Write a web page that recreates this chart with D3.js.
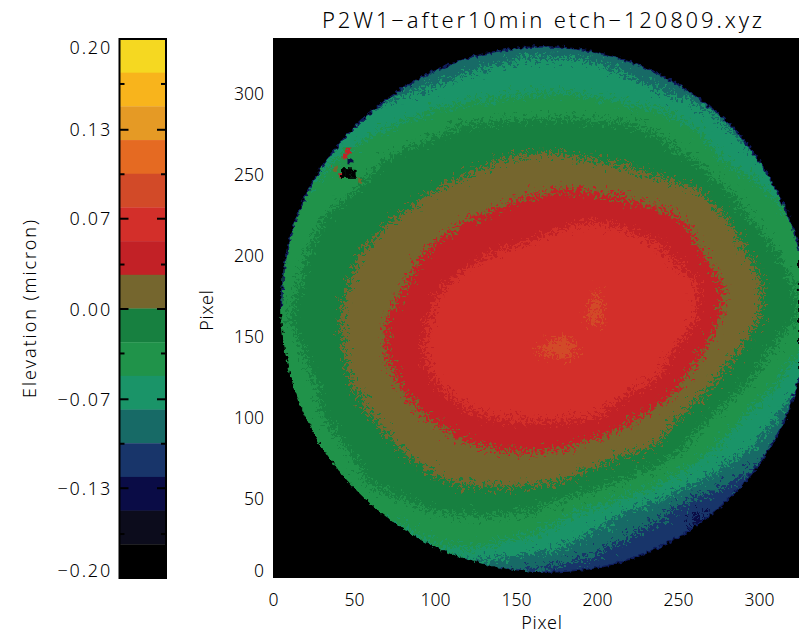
<!DOCTYPE html>
<html><head><meta charset="utf-8">
<style>
html,body{margin:0;padding:0;background:#fff;overflow:hidden}
svg{display:block}
text{font-family:"Noto Sans",sans-serif;font-weight:300;fill:#000}
</style>
<script src="https://cdn.jsdelivr.net/npm/d3@7"></script>
</head><body>
<svg id="c" width="799" height="633"></svg>
<script>
const titleText = "P2W1\u2212after10min etch\u2212120809.xyz";
const xLabel = "Pixel", yLabel = "Pixel", barLabel = "Elevation (micron)";
const pixelTicks = [0,50,100,150,200,250,300];
const barMajorTicks = [0.2,0.133,0.067,0,-0.067,-0.133,-0.2];
const barMinorTicks = [0.167,0.1,0.033,-0.033,-0.1,-0.167];
// top to bottom of the colour bar
const bandColors = ["#f5d821","#f8b41c","#e59a25","#e56a22","#d24a28","#d32f2a","#c22126","#75662e",
  "#178040","#20934a","#1a9468","#176a66","#18356a","#0a0c46","#0c0c1c","#000000"];
const bandEdges = [0.175,0.15,0.125,0.1,0.075,0.05,0.025,0,-0.025,-0.05,-0.075,-0.1,-0.125,-0.15,-0.175];
// surface elevation in nanometres, every 20 pixels
const gridX = [0,20,40,60,80,100,120,140,160,180,200,220,240,260,280,300,320,340];
const gridY = [340,320,300,280,260,240,220,200,180,160,140,120,100,80,60,40,20,0];
const elevationNm = [
 [-140,-140,-140,-135,-130,-125,-120,-115,-110,-110,-115,-120,-125,-130,-135,-140,-140,-140],
 [-140,-135,-130,-120,-110,-95,-85,-78,-74,-74,-77,-85,-95,-110,-120,-130,-135,-140],
 [-130,-120,-105,-90,-78,-70,-62,-56,-52,-51,-55,-65,-75,-85,-100,-115,-125,-130],
 [-120,-110,-80,-60,-48,-33,-24,-21,-19,-19,-21,-24,-32,-53,-75,-90,-105,-115],
 [-100,-75,-50,-31,-19,-12,-7,-2,2,2,-3,-7,-15,-28,-55,-75,-90,-105],
 [-70,-52,-32,-20,-10,0,6,13,21,25,22,15,8,1,-24,-45,-65,-85],
 [-55,-32,-18,-6,4,14,26,34,42,48,50,46,36,20,4,-30,-48,-70],
 [-60,-26,-9,4,17,30,45,52,56,60,63,60,54,30,12,-7,-36,-55],
 [-45,-20,-4,9,23,47,57,61,64,67,75,69,62,54,21,3,-23,-40],
 [-35,-15,-1,15,35,54,60,64,68,73,76,70,62,53,18,0,-21,-38],
 [-45,-23,-4,14,39,56,63,67,75,77,72,64,58,33,9,-15,-43,-65],
 [-60,-32,-7,10,27,50,57,60,64,68,60,56,46,13,-10,-33,-63,-90],
 [-65,-38,-13,0,15,30,48,52,54,53,50,31,12,-10,-36,-62,-87,-110],
 [-70,-55,-30,-12,1,10,20,26,28,25,14,6,-5,-35,-58,-80,-105,-120],
 [-90,-70,-45,-22,-10,-2,3,5,4,0,-12,-29,-46,-70,-95,-116,-122,-124],
 [-110,-95,-70,-50,-36,-26,-23,-23,-26,-45,-60,-78,-96,-127,-122,-122,-124,-126],
 [-130,-120,-105,-90,-70,-50,-45,-53,-62,-73,-92,-108,-116,-124,-124,-126,-128,-130],
 [-150,-145,-140,-130,-120,-110,-105,-110,-115,-120,-122,-124,-124,-124,-126,-128,-130,-130]
];
// wafer outline: radius in pixels every 15 degrees, clockwise from the top
const discCenter = [168,166];
const discRadii = [162,161.5,161,161,160.5,161,162,162.5,163,163,163,163,162.5,162,161.5,161.5,162,162.5,163,163.5,163.5,162.5,162,162];
const outlineOrder = [18,19,20,21,22,23,0,1,2,3,4,5,6,7,8,9,10,11,12];
// small defect near the upper-left edge: x, y, elevation (nm)
const defectX = [43,45,41,37,52,42,45,48,42,45,48,46];
const defectY = [262,265,250,254,247,253,253,252,250,250,250,259];
const defectNm = [40,35,40,10,10,-190,-190,-190,-190,-190,-190,-130];

const W=799,H=633;
const plot={l:273,r:799,t:38,b:578};
const x=d3.scaleLinear().domain([0,(plot.r-plot.l)/1.62]).range([plot.l,plot.r]);
const y=d3.scaleLinear().domain([0,(plot.b-plot.t)/1.62]).range([plot.b,plot.t]);
const color=d3.scaleThreshold().domain(bandEdges.slice().reverse()).range(bandColors.slice().reverse());
const svg=d3.select("#c");

const defs=svg.append("defs");
function speckle(id,freq,scale,seed){
  const f=defs.append("filter").attr("id",id).attr("filterUnits","userSpaceOnUse")
    .attr("x",plot.l).attr("y",plot.t).attr("width",plot.r-plot.l).attr("height",plot.b-plot.t)
    .attr("color-interpolation-filters","sRGB");
  f.append("feTurbulence").attr("type","fractalNoise").attr("baseFrequency",freq).attr("numOctaves",1).attr("seed",seed).attr("result","n");
  f.append("feDisplacementMap").attr("in","SourceGraphic").attr("in2","n").attr("scale",scale).attr("xChannelSelector","R").attr("yChannelSelector","G");
}
speckle("speckle",0.42,38,4);
speckle("rough",0.3,7,9);

const discLine=d3.lineRadial().curve(d3.curveCatmullRomClosed)
  .angle((d,i)=>i*Math.PI/12).radius(d=>d*1.62);
const discPath=discLine(discRadii);
const discT=`translate(${x(discCenter[0])},${y(discCenter[1])})`;
defs.append("clipPath").attr("id","disc").append("path").attr("d",discPath).attr("transform",discT);

svg.append("rect").attr("x",plot.l).attr("y",plot.t).attr("width",plot.r-plot.l).attr("height",plot.b-plot.t).attr("fill","#000");

const plotG=svg.append("g").attr("filter","url(#rough)");
const clipped=plotG.append("g").attr("clip-path","url(#disc)");
const bands=clipped.append("g").attr("filter","url(#speckle)");

const nx=gridX.length, ny=gridY.length;
const flat=elevationNm.flat().map(v=>v/1000);
const gx=d3.scaleLinear().domain([0,nx-1]).range([gridX[0],gridX[nx-1]]);
const gy=d3.scaleLinear().domain([0,ny-1]).range([gridY[0],gridY[ny-1]]);
const proj=d3.geoTransform({point(a,b){this.stream.point(x(gx(a-0.5)),y(gy(b-0.5)));}});
const path=d3.geoPath(proj);
const thresholds=bandEdges.slice().reverse();
const cs=d3.contours().size([nx,ny]).thresholds(thresholds).smooth(true)(flat);
bands.append("rect").attr("x",plot.l).attr("y",plot.t).attr("width",plot.r-plot.l).attr("height",plot.b-plot.t).attr("fill",color(-0.13));
bands.selectAll("path.b").data(cs).join("path").attr("class","b")
  .attr("d",path).attr("fill",d=>color(d.value+1e-6));

clipped.selectAll("rect.d").data(defectX).join("rect").attr("class","d")
  .attr("x",d=>x(d)).attr("y",(d,i)=>y(defectY[i]))
  .attr("width",x(3)-x(0)).attr("height",y(0)-y(3))
  .attr("fill",(d,i)=>color(defectNm[i]/1000));

const edgeLine=d3.lineRadial().curve(d3.curveCatmullRom)
  .angle(i=>(i>=18?i-24:i)*Math.PI/12).radius(i=>discRadii[i]*1.62);
plotG.append("path").attr("d",edgeLine(outlineOrder)).attr("transform",discT).attr("fill","none")
  .attr("stroke","#0f1c5c").attr("stroke-width",1.5);

// pixel axes
const fs=17.5;
const xA=svg.append("g").attr("transform",`translate(0,${plot.b})`)
  .call(d3.axisBottom(x).tickValues(pixelTicks).tickSize(0).tickPadding(16).tickFormat(d3.format("d")));
const yA=svg.append("g").attr("transform",`translate(${plot.l},0)`)
  .call(d3.axisLeft(y).tickValues(pixelTicks).tickSize(0).tickPadding(9).tickFormat(d3.format("d")));
[xA,yA].forEach(a=>{a.select(".domain").remove();a.selectAll("text").attr("font-size",fs);a.attr("font-family",null);});
yA.selectAll(".tick text").attr("dy","0.42em");
yA.selectAll(".tick").filter(d=>d===0).select("text").attr("dy","-0.1em");

svg.append("text").attr("x",542).attr("y",629).attr("text-anchor","middle").attr("font-size",18).attr("letter-spacing",0.8).text(xLabel);
svg.append("text").attr("transform","translate(213,310) rotate(-90)").attr("text-anchor","middle").attr("font-size",18).attr("letter-spacing",0.8).text(yLabel);
svg.append("text").attr("x",542).attr("y",28).attr("text-anchor","middle").attr("font-size",22).attr("textLength",440).attr("lengthAdjust","spacing").text(titleText);

// colour bar
const bar={l:119.5,r:166,t:39,b:578};
const cb=d3.scaleLinear().domain([-0.2,0.2]).range([bar.b,bar.t]);
const edges=[0.2,...bandEdges,-0.2];
svg.append("g").selectAll("rect").data(bandColors).join("rect")
  .attr("x",bar.l).attr("width",bar.r-bar.l)
  .attr("y",(d,i)=>cb(edges[i])).attr("height",(d,i)=>cb(edges[i+1])-cb(edges[i])+0.3)
  .attr("fill",d=>d);
svg.append("rect").attr("x",bar.l).attr("y",bar.t).attr("width",bar.r-bar.l).attr("height",bar.b-bar.t)
  .attr("fill","none").attr("stroke","#000").attr("stroke-width",2);
const fmt=d=>d3.format(".2f")(d).replace("-","\u2212");
function barTicks(vals,len){
  svg.append("g").attr("transform",`translate(${bar.l},0)`)
    .call(d3.axisRight(cb).tickValues(vals).tickSize(len).tickFormat(""))
    .call(g=>{g.select(".domain").remove();g.selectAll("line").attr("stroke","#000").attr("stroke-width",2);});
  svg.append("g").attr("transform",`translate(${bar.r},0)`)
    .call(d3.axisLeft(cb).tickValues(vals).tickSize(len).tickFormat(""))
    .call(g=>{g.select(".domain").remove();g.selectAll("line").attr("stroke","#000").attr("stroke-width",2);});
}
barTicks(barMajorTicks.slice(1,-1),9);
barTicks(barMinorTicks,5);
svg.append("g").selectAll("text").data(barMajorTicks).join("text")
  .attr("x",112).attr("text-anchor","end").attr("font-size",18).attr("letter-spacing",1.8).attr("dominant-baseline","central")
  .attr("y",d=>cb(d)+(d===0.2?8:d===-0.2?-8:0)).text(fmt);
svg.append("text").attr("transform","translate(36,309) rotate(-90)").attr("text-anchor","middle").attr("font-size",18).attr("textLength",178).attr("lengthAdjust","spacing").text(barLabel);
</script>
</body></html>
